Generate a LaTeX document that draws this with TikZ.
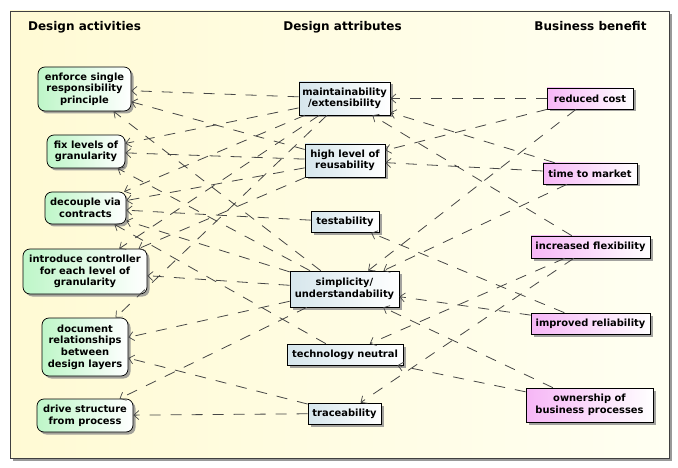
\documentclass[tikz,border=0pt]{standalone}
\usepackage{fontspec}
\setmainfont{DejaVu Sans}
\usetikzlibrary{arrows.meta,shadows}
\definecolor{paperL}{RGB}{255,250,212}
\definecolor{paperR}{RGB}{255,255,242}
\definecolor{actL}{RGB}{190,246,200}
\definecolor{attL}{RGB}{214,230,236}
\definecolor{benL}{RGB}{246,182,246}
\definecolor{depline}{RGB}{70,70,70}
\begin{document}
\begin{tikzpicture}[x=1pt,y=-1pt,
  boxbase/.style={draw=black, line width=0.7pt, align=center, inner sep=0pt,
    font=\bfseries\fontsize{9.9}{11.6}\selectfont,
    drop shadow={shadow xshift=2.5pt,shadow yshift=-2.5pt,fill=black!45,opacity=0.8}},
  activity/.style={boxbase, rounded corners=7pt, left color=actL, right color=white},
  attribute/.style={boxbase, left color=attL, right color=white},
  benefit/.style={boxbase, left color=benL, right color=white},
  coltitle/.style={font=\bfseries\fontsize{12}{14}\selectfont, anchor=base},
  dep/.style={draw=depline, line width=0.8pt, dash pattern=on 11pt off 10pt,
    -{Straight Barb[length=5pt,width=9pt,line width=0.7pt]}}
]
\useasboundingbox (0,0) rectangle (678,468);

% frame with its shadow
\fill[black!40] (13,14) rectangle (672,461);
\draw[draw=black!75, line width=0.7pt, left color=paperL, right color=paperR] (10,11) rectangle (669,458);

% column headings
\node[coltitle] (hact) at (84.5,31) {Design activities};
\node[coltitle] (hatt) at (342.5,31) {Design attributes};
\node[coltitle] (hben) at (590.5,31) {Business benefit};

% design activities
\node[activity, minimum width=93pt, minimum height=44pt] (n1) at (84.5,89) {enforce single\\responsibility\\principle};
\node[activity, minimum width=78pt, minimum height=33pt] (n2) at (86,151.5) {fix levels of\\granularity};
\node[activity, minimum width=81pt, minimum height=32pt] (n3) at (85.5,208) {decouple via\\contracts};
\node[activity, minimum width=124pt, minimum height=45pt] (n4) at (85,271.5) {introduce controller\\for each level of\\granularity};
\node[activity, minimum width=86pt, minimum height=58pt] (n5) at (85,347) {document\\relationships\\between\\design layers};
\node[activity, minimum width=96pt, minimum height=33pt] (n6) at (85,415.5) {drive structure\\from process};

% design attributes
\node[attribute, minimum width=91pt, minimum height=33pt] (m1) at (344.5,98.5) {maintainability\\/extensibility};
\node[attribute, minimum width=80pt, minimum height=33pt] (m2) at (345,160.5) {high level of\\reusability};
\node[attribute, minimum width=68pt, minimum height=21pt] (m3) at (345,222) {testability};
\node[attribute, minimum width=109pt, minimum height=36pt] (m4) at (344.5,289) {simplicity/\\understandability};
\node[attribute, minimum width=116pt, minimum height=21pt] (m5) at (345,354.5) {technology neutral};
\node[attribute, minimum width=73pt, minimum height=21pt] (m6) at (344.5,413.5) {traceability};

% business benefits
\node[benefit, minimum width=86pt, minimum height=21pt] (r1) at (590,98.5) {reduced cost};
\node[benefit, minimum width=94pt, minimum height=21pt] (r2) at (590,173.5) {time to market};
\node[benefit, minimum width=119pt, minimum height=22pt] (r3) at (590.5,247) {increased flexibility};
\node[benefit, minimum width=119pt, minimum height=21pt] (r4) at (590.5,323.5) {improved reliability};
\node[benefit, minimum width=127pt, minimum height=34pt] (r5) at (589.5,405) {ownership of\\business processes};

% attributes depend on activities
\draw[dep] (m1) -- (n1);
\draw[dep] (m1) -- (n2);
\draw[dep] (m1) -- (n3);
\draw[dep] (m1) -- (n4);
\draw[dep] (m1) -- (n5);
\draw[dep] (m2) -- (n1);
\draw[dep] (m2) -- (n2);
\draw[dep] (m2) -- (n3);
\draw[dep] (m2) -- (n4);
\draw[dep] (m3) -- (n3);
\draw[dep] (m4) -- (n1);
\draw[dep] (m4) -- (n2);
\draw[dep] (m4) -- (n3);
\draw[dep] (m4) -- (n4);
\draw[dep] (m4) -- (n5);
\draw[dep] (m4) -- (n6);
\draw[dep] (m5) -- (n3);
\draw[dep] (m6) -- (n5);
\draw[dep] (m6) -- (n6);

% benefits depend on attributes
\draw[dep] (r1) -- (m1);
\draw[dep] (r1) -- (m2);
\draw[dep] (r1) -- (m4);
\draw[dep] (r2) -- (m1);
\draw[dep] (r2) -- (m2);
\draw[dep] (r2) -- (m4);
\draw[dep] (r3) -- (m1);
\draw[dep] (r3) -- (m5);
\draw[dep] (r3) -- (m6);
\draw[dep] (r4) -- (m3);
\draw[dep] (r4) -- (m4);
\draw[dep] (r5) -- (m4);
\draw[dep] (r5) -- (m5);
\end{tikzpicture}
\end{document}
